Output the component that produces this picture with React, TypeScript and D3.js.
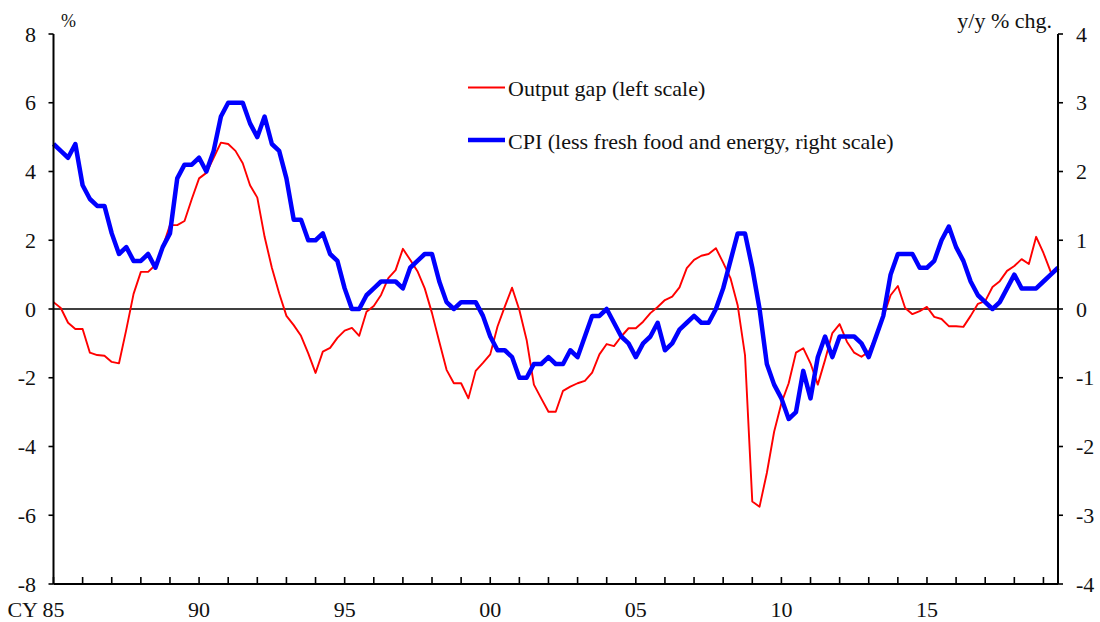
import React from 'react';
import * as d3 from 'd3';

// Quarterly data starting 1985 Q1
const START_YEAR = 1985;
const outputGap: (number | null)[] = [
  0.2, 0.03, -0.4, -0.58, -0.58, -1.27, -1.34, -1.36, -1.54, -1.58,
  -0.6, 0.44, 1.08, 1.08, 1.28, 1.8, 2.44, 2.44, 2.56, 3.2,
  3.8, 3.96, 4.4, 4.84, 4.8, 4.6, 4.24, 3.6, 3.24, 2.1,
  1.2, 0.46, -0.2, -0.47, -0.78, -1.29, -1.86, -1.24, -1.13, -0.84,
  -0.63, -0.55, -0.78, -0.08, 0.09, 0.41, 0.9, 1.13, 1.75, 1.43,
  1.1, 0.6, -0.12, -0.95, -1.77, -2.16, -2.16, -2.6, -1.8, -1.57,
  -1.32, -0.51, 0.07, 0.62, -0.03, -0.9, -2.2, -2.6, -2.99, -2.99,
  -2.38, -2.26, -2.16, -2.09, -1.85, -1.32, -1.02, -1.08, -0.8, -0.56,
  -0.56, -0.37, -0.12, 0.06, 0.26, 0.36, 0.63, 1.19, 1.43, 1.55,
  1.6, 1.77, 1.35, 0.9, 0.1, -1.34, -5.6, -5.75, -4.77, -3.57,
  -2.74, -2.16, -1.27, -1.14, -1.58, -2.2, -1.48, -0.7, -0.44, -0.95,
  -1.27, -1.39, -1.24, -0.79, -0.23, 0.4, 0.67, 0.03, -0.15, -0.06,
  0.06, -0.23, -0.29, -0.5, -0.5, -0.52, -0.2, 0.15, 0.23, 0.64,
  0.81, 1.11, 1.25, 1.45, 1.31, 2.1, 1.63, 1.08, null,
];
const cpi: number[] = [
  2.4, 2.3, 2.2, 2.4, 1.8, 1.6, 1.5, 1.5, 1.1, 0.8,
  0.9, 0.7, 0.7, 0.8, 0.6, 0.9, 1.1, 1.9, 2.1, 2.1,
  2.2, 2.0, 2.3, 2.8, 3.0, 3.0, 3.0, 2.7, 2.5, 2.8,
  2.4, 2.3, 1.9, 1.3, 1.3, 1.0, 1.0, 1.1, 0.8, 0.7,
  0.3, 0.0, 0.0, 0.2, 0.3, 0.4, 0.4, 0.4, 0.3, 0.6,
  0.7, 0.8, 0.8, 0.4, 0.1, 0.0, 0.1, 0.1, 0.1, -0.1,
  -0.4, -0.6, -0.6, -0.7, -1.0, -1.0, -0.8, -0.8, -0.7, -0.8,
  -0.8, -0.6, -0.7, -0.4, -0.1, -0.1, 0.0, -0.2, -0.4, -0.5,
  -0.7, -0.5, -0.4, -0.2, -0.6, -0.5, -0.3, -0.2, -0.1, -0.2,
  -0.2, 0.0, 0.3, 0.7, 1.1, 1.1, 0.6, 0.0, -0.8, -1.1,
  -1.3, -1.6, -1.5, -0.9, -1.3, -0.7, -0.4, -0.7, -0.4, -0.4,
  -0.4, -0.5, -0.7, -0.4, -0.1, 0.5, 0.8, 0.8, 0.8, 0.6,
  0.6, 0.7, 1.0, 1.2, 0.9, 0.7, 0.4, 0.2, 0.1, 0.0,
  0.1, 0.3, 0.5, 0.3, 0.3, 0.3, 0.4, 0.5, 0.6,
];
const leftTicks = [-8, -6, -4, -2, 0, 2, 4, 6, 8];
const rightTicks = [-4, -3, -2, -1, 0, 1, 2, 3, 4];
const yearTicks = d3.range(1985, 2020);
const yearLabels = [
  { year: 1985, label: '85' },
  { year: 1990, label: '90' },
  { year: 1995, label: '95' },
  { year: 2000, label: '00' },
  { year: 2005, label: '05' },
  { year: 2010, label: '10' },
  { year: 2015, label: '15' },
];
const legendItems = [
  { label: 'Output gap (left scale)', color: '#ff0000', width: 2 },
  { label: 'CPI (less fresh food and energy, right scale)', color: '#0000ff', width: 4.5 },
];

const W = 1100;
const H = 622;
const L = 53.5;
const R = 1058;
const T = 34;
const B = 584;
const FS = 22;
const FONT = '"Liberation Serif", "Times New Roman", serif';

export default function App() {
  const x = d3.scaleLinear().domain([START_YEAR, 2019.5]).range([L, R]);
  const yL = d3.scaleLinear().domain([-8, 8]).range([B, T]);
  const yR = d3.scaleLinear().domain([-4, 4]).range([B, T]);
  const t = (i: number) => START_YEAR + i / 4;

  const gapLine = d3
    .line<number | null>()
    .defined((d) => d !== null)
    .x((_, i) => x(t(i)))
    .y((d) => yL(d as number));
  const cpiLine = d3
    .line<number>()
    .x((_, i) => x(t(i)))
    .y((d) => yR(d));

  return (
    <svg
      width={W}
      height={H}
      style={{ position: 'absolute', left: 0, top: 0, background: '#fff' }}
      fontFamily={FONT}
    >
      <rect x={0} y={0} width={W} height={H} fill="#fff" />
      {/* zero line */}
      <line x1={L} x2={R} y1={yL(0)} y2={yL(0)} stroke="#000" strokeWidth={1.6} />
      {/* series */}
      <path d={gapLine(outputGap) || ''} fill="none" stroke="#ff0000" strokeWidth={1.9} strokeLinejoin="round" />
      <path d={cpiLine(cpi) || ''} fill="none" stroke="#0000ff" strokeWidth={4.5} strokeLinejoin="round" />
      {/* axes */}
      <line x1={L} x2={L} y1={T} y2={B} stroke="#000" strokeWidth={2} />
      <line x1={R} x2={R} y1={T} y2={B} stroke="#000" strokeWidth={2} />
      <line x1={L} x2={R} y1={B} y2={B} stroke="#000" strokeWidth={2} />
      {leftTicks.map((v) => (
        <g key={'l' + v}>
          <line x1={L - 5} x2={L} y1={yL(v)} y2={yL(v)} stroke="#000" strokeWidth={1.6} />
          <text x={36} y={yL(v)} dy="0.35em" textAnchor="end" fontSize={FS} fill="#111">
            {v}
          </text>
        </g>
      ))}
      {rightTicks.map((v) => (
        <g key={'r' + v}>
          <line x1={R} x2={R + 5} y1={yR(v)} y2={yR(v)} stroke="#000" strokeWidth={1.6} />
          <text x={1076} y={yR(v)} dy="0.35em" textAnchor="start" fontSize={FS} fill="#111">
            {v}
          </text>
        </g>
      ))}
      {yearTicks.map((yr) => (
        <line key={'x' + yr} x1={x(yr)} x2={x(yr)} y1={B} y2={B - 7} stroke="#000" strokeWidth={1.6} />
      ))}
      {yearLabels.map((d) => (
        <text key={'xl' + d.year} x={x(d.year)} y={617} textAnchor="middle" fontSize={FS} fill="#111">
          {d.label}
        </text>
      ))}
      <text x={38} y={617} textAnchor="end" fontSize={FS} fill="#111">
        CY
      </text>
      {/* unit labels */}
      <text x={61} y={27} fontSize={18} fill="#111">
        %
      </text>
      <text x={1052} y={28} textAnchor="end" fontSize={FS} fill="#111">
        y/y % chg.
      </text>
      {/* legend */}
      {legendItems.map((d, i) => (
        <g key={d.label}>
          <line x1={468} x2={505} y1={87.5 + i * 52.5} y2={87.5 + i * 52.5} stroke={d.color} strokeWidth={d.width} />
          <text x={508} y={96 + i * 52.5} fontSize={FS} fill="#111">
            {d.label}
          </text>
        </g>
      ))}
    </svg>
  );
}
